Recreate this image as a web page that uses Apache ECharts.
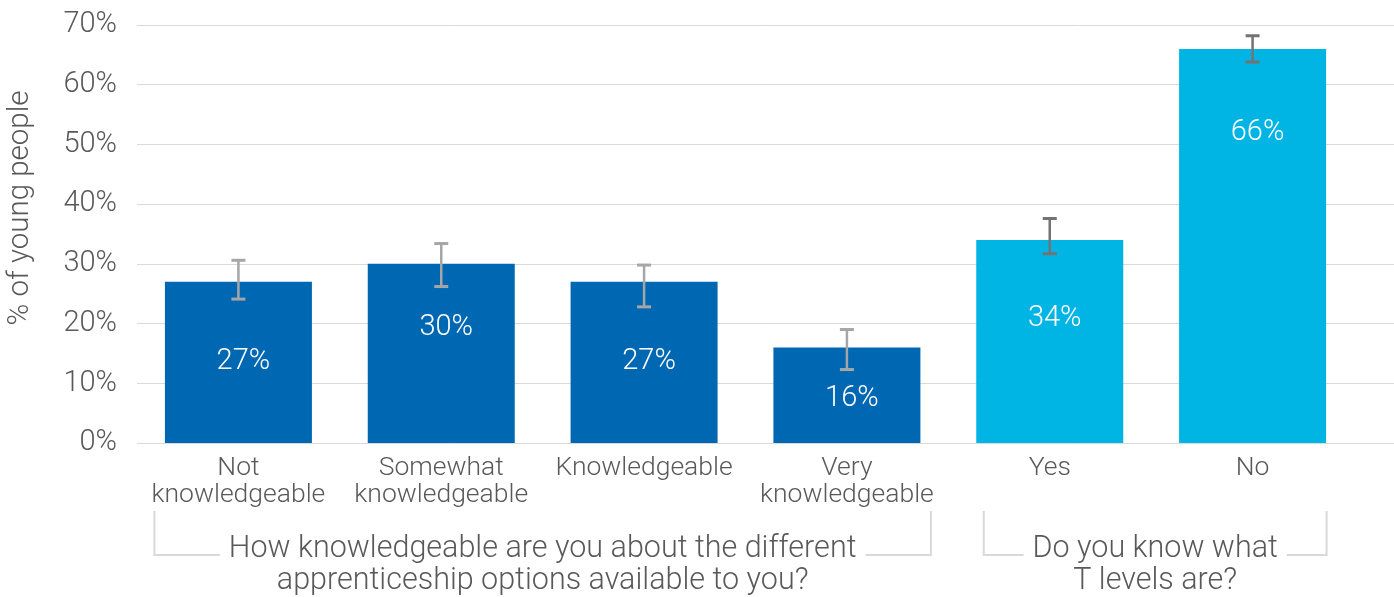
<!DOCTYPE html>
<html><head><meta charset="utf-8">
<script src="https://cdn.jsdelivr.net/npm/echarts@6/dist/echarts.min.js"></script>
<style>html,body{margin:0;padding:0;background:#fff}#c{width:1394px;height:597px}</style>
</head><body><div id="c"></div>
<script>
// ---- data ----
const categories = ['Not\nknowledgeable', 'Somewhat\nknowledgeable', 'Knowledgeable', 'Very\nknowledgeable', 'Yes', 'No'];
const values = [27, 30, 27, 16, 34, 66];
const errLow = [24.1, 26.2, 22.8, 12.3, 31.7, 63.8];
const errHigh = [30.6, 33.4, 29.8, 19.0, 37.6, 68.2];
const groupOf = [0, 0, 0, 0, 1, 1];
const groupLabels = ['How knowledgeable are you about the different\napprenticeship options available to you?', 'Do you know what\nT levels are?'];
const yTickMin = 0, yTickMax = 70, yTickStep = 10;
const yTitle = '% of young people';

// ---- style ----
const FONT = 'Roboto';
const TXT = '#595959';
const barColors = ['#0068b3', '#00b4e4'];
const errColors = ['#a6a6a6', '#737373'];
const labelDist = [65, 49, 65, 37, 64, 69];
const bracketPad = [[84, 84], [66, 74]];

const chart = echarts.init(document.getElementById('c'), null, {renderer: 'canvas'});

const barData = values.map((v, i) => ({
  value: v,
  itemStyle: {color: barColors[groupOf[i]]},
  label: {distance: labelDist[i]}
}));
const errData = values.map((v, i) => [i, errLow[i], errHigh[i]]);

const option = {
  animation: false,
  grid: [
    {left: 137, right: 40, top: 25, bottom: 154, containLabel: false, outerBoundsMode: 'none'},
    {left: 137, right: 0, top: 25, bottom: 154, containLabel: false, outerBoundsMode: 'none'}
  ],
  xAxis: [
    {type: 'category', gridIndex: 0, data: categories,
      axisLine: {show: false}, axisTick: {show: false},
      axisLabel: {interval: 0, color: TXT, fontFamily: FONT, fontWeight: 300, fontSize: 26.5, lineHeight: 27, margin: 12}},
    {type: 'value', gridIndex: 1, show: false, min: 0, max: 1}
  ],
  yAxis: [
    {type: 'value', gridIndex: 0, min: yTickMin, max: yTickMax, interval: yTickStep,
      splitLine: {show: false}, axisLine: {show: false}, axisTick: {show: false},
      axisLabel: {formatter: '{value}%', color: TXT, fontFamily: FONT, fontWeight: 300, fontSize: 29, margin: 20},
      name: yTitle, nameLocation: 'middle', nameGap: 101,
      nameTextStyle: {color: TXT, fontFamily: FONT, fontWeight: 300, fontSize: 29.5, padding: [0, 0, 0, 52]}},
    {type: 'value', gridIndex: 1, min: yTickMin, max: yTickMax, interval: yTickStep,
      axisLine: {show: false}, axisTick: {show: false}, axisLabel: {show: false},
      splitLine: {show: true, lineStyle: {color: '#d9d9d9', width: 1}}}
  ],
  series: [
    {type: 'bar', xAxisIndex: 0, yAxisIndex: 0, data: barData, barWidth: 147, z: 2,
      label: {show: true, position: 'insideTop', formatter: '{c}%', color: '#fff', offset: [5, 0],
        fontFamily: FONT, fontWeight: 300, fontSize: 29}},
    {type: 'custom', xAxisIndex: 0, yAxisIndex: 0, data: errData, z: 5,
      renderItem: function (params, api) {
        const i = api.value(0);
        const lo = api.coord([i, api.value(1)]);
        const hi = api.coord([i, api.value(2)]);
        const col = errColors[groupOf[i]];
        const x = lo[0], hw = 7;
        return {type: 'group', children: [
          {type: 'line', shape: {x1: x, y1: lo[1], x2: x, y2: hi[1]}, style: {stroke: col, lineWidth: 2.5}},
          {type: 'line', shape: {x1: x - hw, y1: lo[1], x2: x + hw, y2: lo[1]}, style: {stroke: col, lineWidth: 3}},
          {type: 'line', shape: {x1: x - hw, y1: hi[1], x2: x + hw, y2: hi[1]}, style: {stroke: col, lineWidth: 3}}
        ]};
      }}
  ]
};
chart.setOption(option);

// ---- group brackets and labels ----
const y0 = chart.convertToPixel({yAxisIndex: 0}, 0);
const gfx = [];
groupLabels.forEach((lab, g) => {
  const idx = groupOf.map((v, i) => v === g ? i : -1).filter(i => i >= 0);
  const xa = chart.convertToPixel({xAxisIndex: 0}, idx[0]) - bracketPad[g][0];
  const xb = chart.convertToPixel({xAxisIndex: 0}, idx[idx.length - 1]) + bracketPad[g][1];
  const yTop = y0 + 68, yBot = y0 + 112;
  gfx.push({type: 'polyline', z: 10, shape: {points: [[xa, yTop], [xa, yBot], [xb, yBot], [xb, yTop]]},
    style: {stroke: '#d9d9d9', lineWidth: 2, fill: null}});
  gfx.push({type: 'text', z: 20, x: (xa + xb) / 2, y: y0 + 90,
    style: {text: lab, font: '300 30.5px ' + FONT, fill: TXT, align: 'center', verticalAlign: 'top',
      lineHeight: 32, backgroundColor: '#fff', padding: [0, 9]}});
});
chart.setOption({graphic: gfx});
</script>
</body></html>
